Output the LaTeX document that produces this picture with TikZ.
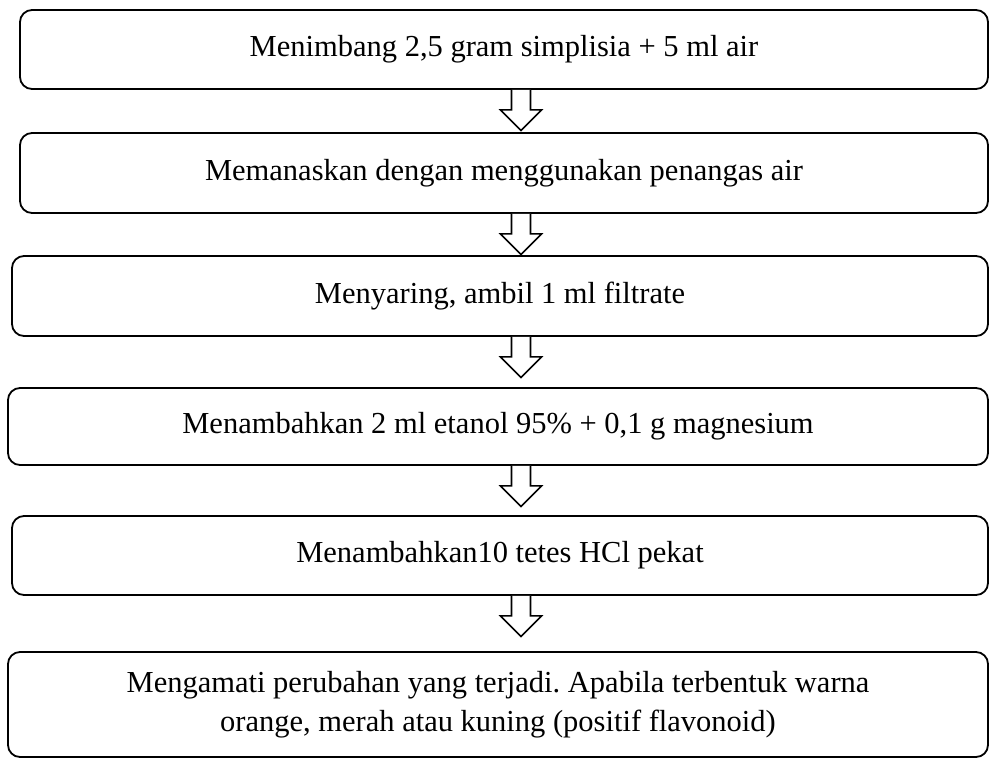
\documentclass[tikz,border=0pt]{standalone}
\usepackage{fontspec}
\setmainfont{Liberation Serif}
\usepackage{tikz}
\usetikzlibrary{positioning}
\frenchspacing

\tikzset{
	stepbox/.style={draw, line width=1.8pt, rounded corners=12pt, inner sep=0pt,
	  font=\fontsize{30.5}{39}\selectfont, align=center},
	flowarrow/.style={draw, line width=1.6pt, fill=white}
}

\begin{document}
\begin{tikzpicture}[x=1pt,y=-1pt]
	\useasboundingbox (0,0) rectangle (990,758);
	\node[stepbox, minimum width=968, minimum height=79] (weigh) at (504,49.5)
	  {Menimbang 2,5 gram simplisia + 5 ml air};
	\node[stepbox, minimum width=968, minimum height=80] (heat) at (504,173)
	  {Memanaskan dengan menggunakan penangas air};
	\node[stepbox, minimum width=976, minimum height=80] (filter) at (500,296)
	  {Menyaring, ambil 1 ml filtrate};
	\node[stepbox, minimum width=980, minimum height=77] (ethanol) at (498,426.5)
	  {Menambahkan 2 ml etanol 95\% + 0,1 g magnesium};
	\node[stepbox, minimum width=976, minimum height=79] (acid) at (500,555.5)
	  {Menambahkan10 tetes HCl pekat};
	\node[stepbox, minimum width=980, minimum height=105] (observe) at (498,704.5)
	  {Mengamati perubahan yang terjadi. Apabila terbentuk warna\\
	   orange, merah atau kuning (positif flavonoid)};
	% hollow block arrows under each step
	\foreach \s in {weigh,heat,filter,ethanol,acid}
	  \draw[flowarrow] (521,0 |- \s.south) ++(-9.5,0) -- ++(0,20) -- ++(-11,0)
	    -- ++(20.5,20.5) -- ++(20.5,-20.5) -- ++(-11,0) -- ++(0,-20);
\end{tikzpicture}
\end{document}
